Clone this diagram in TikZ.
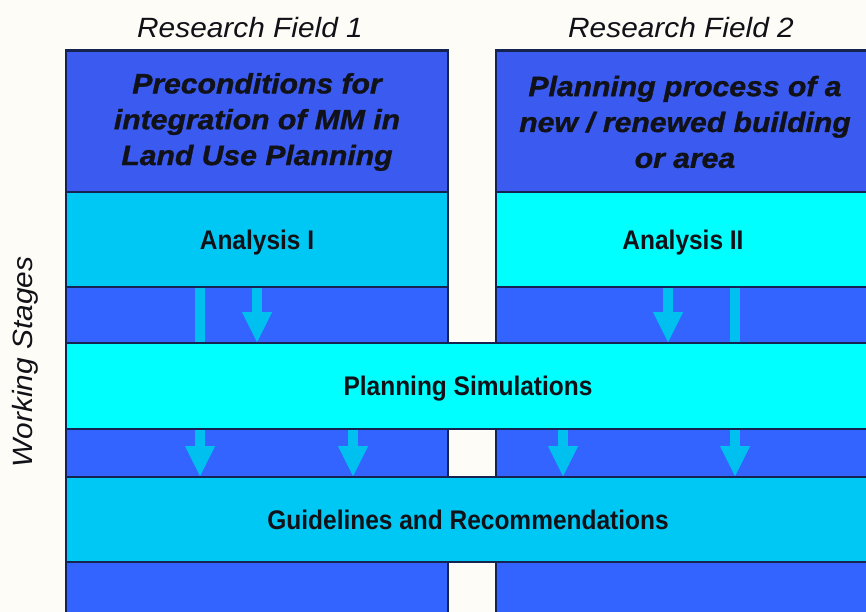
\documentclass[tikz,border=0pt]{standalone}
\usepackage{fontspec}
\setmainfont{Liberation Sans}
\newfontfamily\fieldfont[FakeStretch=1.07]{Liberation Sans}
\newfontfamily\precfont[FakeStretch=1.08,FakeBold=1.2]{Liberation Sans}
\newfontfamily\stagefont[FakeStretch=0.91]{Liberation Sans}
\usepackage{tikz}
\usetikzlibrary{arrows.meta}

\definecolor{paper}{RGB}{253,252,246}
\definecolor{fieldblue}{RGB}{58,90,240}
\definecolor{rowblue}{RGB}{52,100,255}
\definecolor{skyband}{RGB}{0,200,245}
\definecolor{cyanband}{RGB}{0,255,255}
\definecolor{edgenavy}{RGB}{20,35,80}
\definecolor{flowblue}{RGB}{0,192,240}
\definecolor{inktext}{RGB}{17,17,24}

\begin{document}
\begin{tikzpicture}[>={Triangle[width=30bp,length=30bp,line width=0pt]},
	box/.style={rectangle, draw=edgenavy, line width=1.5bp, inner sep=0pt, text=inktext},
	fieldtitle/.style={font=\fieldfont\itshape\fontsize{28}{34}\selectfont, text=inktext},
	precbox/.style={box, fill=fieldblue, align=center,
		font=\precfont\bfseries\itshape\fontsize{28}{36}\selectfont},
	stagebox/.style={box, text depth=0pt, font=\stagefont\bfseries\fontsize{27}{32}\selectfont},
	flow/.style={draw=flowblue, line width=10bp}]
	\useasboundingbox (0bp,0bp) rectangle (866bp,612bp);
	\fill[paper] (0bp,0bp) rectangle (866bp,612bp);

	% the two research fields
	\node (col1) at (257bp,272bp) [box, fill=rowblue, minimum width=382bp, minimum height=580bp] {};
	\node (col2) at (683bp,272bp) [box, fill=rowblue, minimum width=374bp, minimum height=580bp] {};

	\node (field1) at (250bp,584bp) [fieldtitle] {Research Field 1};
	\node (field2) at (681bp,584bp) [fieldtitle] {Research Field 2};
	\node (stages) at (25bp,250bp) [fieldtitle, rotate=90] {Working Stages};

	\node (pre1) at (257bp,490bp) [precbox, minimum width=382bp, minimum height=142bp]
		{Preconditions for\\integration of MM in\\Land Use Planning};
	\node (pre2) at (685bp,490bp) [precbox, minimum width=378bp, minimum height=142bp]
		{Planning process of a\\new / renewed building\\or area};

	\node (ana1) at (257bp,372.5bp) [stagebox, fill=skyband, minimum width=382bp, minimum height=95bp] {Analysis I};
	\node (ana2) at (683bp,372.5bp) [stagebox, fill=cyanband, minimum width=374bp, minimum height=95bp] {Analysis II};

	\node (sim)   at (468bp,226bp)  [stagebox, fill=cyanband, minimum width=804bp, minimum height=86bp] {Planning Simulations};
	\node (guide) at (468bp,92.5bp) [stagebox, fill=skyband, minimum width=804bp, minimum height=85bp] {Guidelines and Recommendations};

	% where the flows run down
	\coordinate (x1) at (200bp,0bp);
	\coordinate (x2) at (257bp,0bp);
	\coordinate (x3) at (668bp,0bp);
	\coordinate (x4) at (735bp,0bp);
	\coordinate (x5) at (353bp,0bp);
	\coordinate (x6) at (563bp,0bp);

	\draw [flow]    (ana1.south -| x1) -- (sim.north -| x1);
	\draw [flow,->] (ana1.south -| x2) -- (sim.north -| x2);
	\draw [flow,->] (ana2.south -| x3) -- (sim.north -| x3);
	\draw [flow]    (ana2.south -| x4) -- (sim.north -| x4);

	\draw [flow,->] (sim.south -| x1) -- (guide.north -| x1);
	\draw [flow,->] (sim.south -| x5) -- (guide.north -| x5);
	\draw [flow,->] (sim.south -| x6) -- (guide.north -| x6);
	\draw [flow,->] (sim.south -| x4) -- (guide.north -| x4);
\end{tikzpicture}
\end{document}
